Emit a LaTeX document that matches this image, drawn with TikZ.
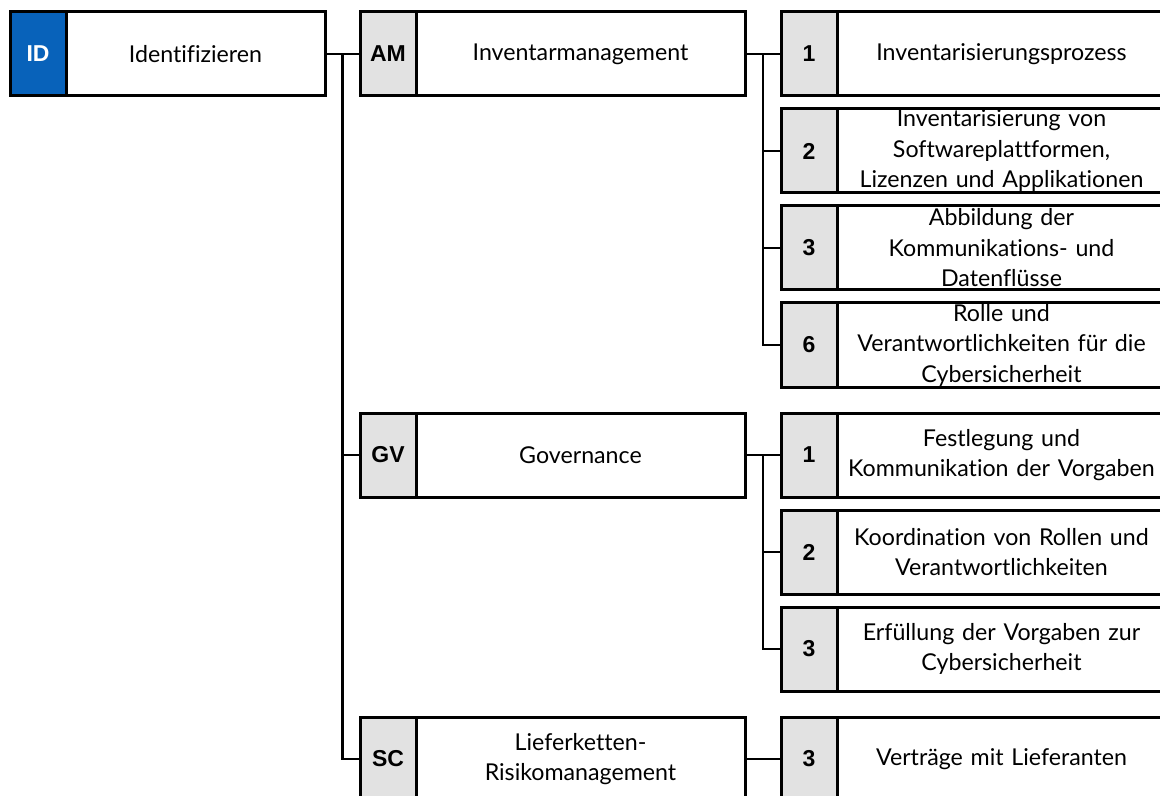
\documentclass[tikz,border=0pt]{standalone}
\usepackage{fontspec}
\setmainfont{Lato}[Ligatures=NoCommon]
\newfontfamily\codefont{Liberation Sans}
\usetikzlibrary{positioning,calc}

\definecolor{idblue}{RGB}{8,98,186}
\definecolor{codegray}{RGB}{226,226,226}

\tikzset{
  cell/.style={draw, line width=1.5pt, outer sep=0pt, inner xsep=0pt, inner ysep=0pt, minimum height=42pt},
  code/.style={cell, anchor=north west, fill=codegray, minimum width=28pt,
               font=\codefont\bfseries\fontsize{11.5}{13}\selectfont},
  idcode/.style={code, fill=idblue, text=white},
  lab/.style={cell, align=center, font=\fontsize{11.6}{15.25}\selectfont},
  lab1/.style={lab, text width=129.5pt},
  lab2/.style={lab, text width=164.5pt},
  link/.style={line width=1.25pt}
}

\begin{document}
\begin{tikzpicture}[x=0.5pt, y=-0.5pt]

\useasboundingbox (0,0) rectangle (1160,796);
\clip (0,0) rectangle (1160,796);

% Funktion
\node[idcode] (id) at (10,12) {ID};
\node[lab1, right=0pt of id] (idlab) {Identifizieren};

% Kategorien
\node[code] (am) at (360,12) {AM};
\node[lab2, right=0pt of am] (amlab) {Inventarmanagement};

\node[code] (gv) at (360,413) {GV};
\node[lab2, right=0pt of gv] (gvlab) {Governance};

\node[code] (sc) at (360,717) {SC};
\node[lab2, right=0pt of sc] (sclab) {Lieferketten-\\Risikomanagement};

% Unterkategorien AM
\node[code] (am1) at (781,12) {1};
\node[lab2, right=0pt of am1] (am1lab) {Inventarisierungsprozess};

\node[code] (am2) at (781,109) {2};
\node[lab2, right=0pt of am2] (am2lab) {Inventarisierung von\\Softwareplattformen,\\Lizenzen und Applikationen};

\node[code] (am3) at (781,206) {3};
\node[lab2, right=0pt of am3] (am3lab) {Abbildung der\\Kommunikations- und\\Datenflüsse};

\node[code] (am6) at (781,303) {6};
\node[lab2, right=0pt of am6] (am6lab) {Rolle und\\Verantwortlichkeiten für die\\Cybersicherheit};

% Unterkategorien GV
\node[code] (gv1) at (781,413) {1};
\node[lab2, right=0pt of gv1] (gv1lab) {Festlegung und\\Kommunikation der Vorgaben};

\node[code] (gv2) at (781,510) {2};
\node[lab2, right=0pt of gv2] (gv2lab) {Koordination von Rollen und\\Verantwortlichkeiten};

\node[code] (gv3) at (781,607) {3};
\node[lab2, right=0pt of gv3] (gv3lab) {Erfüllung der Vorgaben zur\\Cybersicherheit};

% Unterkategorie SC
\node[code] (sc3) at (781,717) {3};
\node[lab2, right=0pt of sc3] (sc3lab) {Verträge mit Lieferanten};

% Verbindungen Ebene 1
\coordinate (j1) at ($(idlab.east)!0.5!(am.west)$);
\draw[link] (idlab.east) -- (am.west);
\foreach \k in {gv,sc} \draw[link] (j1) |- (\k.west);

% Verbindungen AM
\coordinate (j2) at ($(amlab.east)!0.5!(am1.west)$);
\draw[link] (amlab.east) -- (am1.west);
\foreach \k in {am2,am3,am6} \draw[link] (j2) |- (\k.west);

% Verbindungen GV
\coordinate (j3) at ($(gvlab.east)!0.5!(gv1.west)$);
\draw[link] (gvlab.east) -- (gv1.west);
\foreach \k in {gv2,gv3} \draw[link] (j3) |- (\k.west);

% Verbindung SC
\draw[link] (sclab.east) -- (sc3.west);

\end{tikzpicture}
\end{document}
